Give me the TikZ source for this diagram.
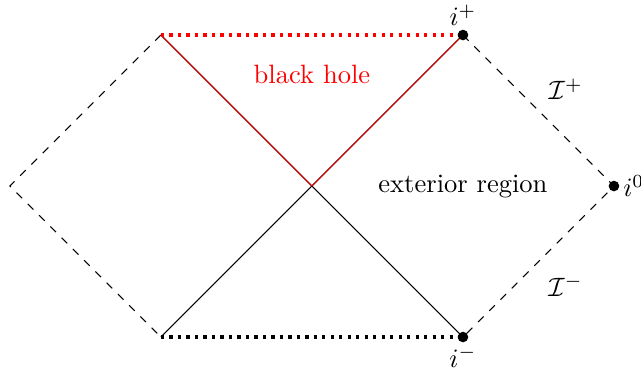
\documentclass[tikz,border=0pt]{standalone}
\begin{document}
\begin{tikzpicture}[x=2cm,y=2cm,
  dot/.style={circle,fill=black,inner sep=0pt,minimum size=4pt},
  bound/.style={dashed},
  hor/.style={red!85!black},
  sing/.style={very thick,dotted}]
\useasboundingbox (-2.066,-1.232) rectangle (2.179,1.232);
\coordinate (L) at (-2,0);
\coordinate (TL) at (-1,1);
\coordinate (BL) at (-1,-1);
\coordinate (C) at (0,0);
\coordinate (IP) at (1,1);
\coordinate (IM) at (1,-1);
\coordinate (I0) at (2,0);
\draw[bound] (TL) -- (L) -- (BL);
\draw[bound] (IP) -- (I0) -- (IM);
\draw (TL) -- (IM);
\draw (BL) -- (IP);
\draw[hor] (TL) -- (C) -- (IP);
\draw[sing,red] (TL) -- (IP);
\draw[sing] (BL) -- (IM);
\node[dot] (ip) at (IP) {};
\node[dot] (im) at (IM) {};
\node[dot] (i0) at (I0) {};
\node[anchor=south] (lip) at (IP) {$i^+$};
\node[anchor=north] (lim) at (IM) {$i^-$};
\node[anchor=west] (li0) at (I0) {$i^0$};
\node[text=red] (bh) at (0,0.74) {black hole};
\node (ext) at (1,0) {exterior region};
\node (scrip) at (1.68,0.64) {$\mathcal{I}^+$};
\node (scrim) at (1.68,-0.66) {$\mathcal{I}^-$};
\end{tikzpicture}
\end{document}
